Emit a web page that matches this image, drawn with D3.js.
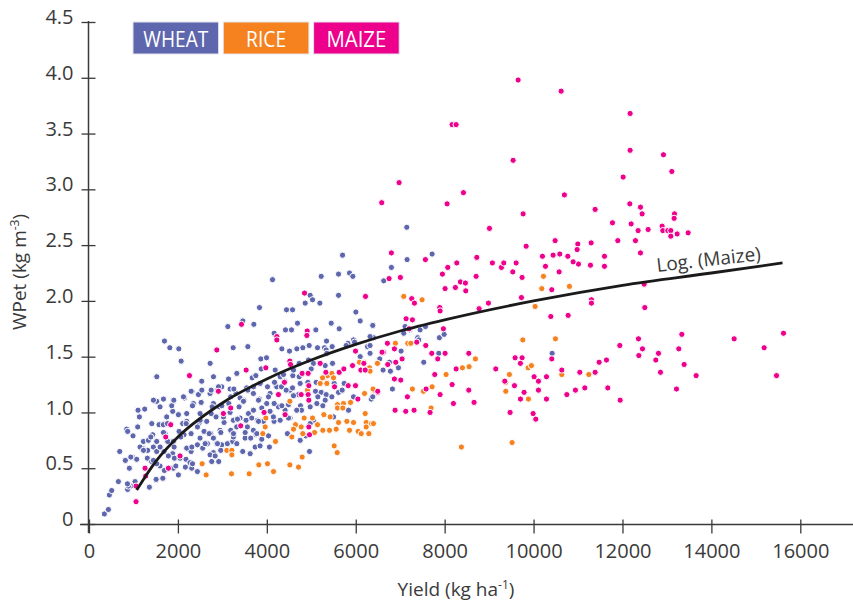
<!DOCTYPE html>
<html><head><meta charset="utf-8">
<script src="https://cdn.jsdelivr.net/npm/d3@7"></script>
<style>
body{margin:0;background:#fff}
svg{display:block}
text{font-family:"Open Sans","Noto Sans",sans-serif}
</style>
</head><body>
<svg id="c" width="853" height="606"></svg>
<script>
// ---------- data ----------
const categories = ["WHEAT", "RICE", "MAIZE"];
const xTicks = [0, 2000, 4000, 6000, 8000, 10000, 12000, 14000, 16000];
const xTickLabels = ["0", "2000", "4000", "6000", "8000", "10000", "12000", "14000", "16000"];
const yTicks = [0, 0.5, 1, 1.5, 2, 2.5, 3, 3.5, 4, 4.5];
const yTickLabels = ["0", "0.5", "1.0", "1.5", "2.0", "2.5", "3.0", "3.5", "4.0", "4.5"];
const trendLabel = "Log. (Maize)";

// [yield kg/ha, WPet kg/m3]
const wheat = [
[5703,2.41],[5223,2.22],[5613,2.24],[5860,2.25],[5935,2.22],[4128,2.19],[5613,2.05],[4975,2.05],[5028,2.01],[4863,1.98],[5193,1.98],[4443,1.92],[4578,1.92],[6003,1.90],[3835,1.94],[4690,1.80],[4555,1.74],[3460,1.82],[3708,1.79],[3123,1.77],[5448,1.80],[5628,1.75],[6100,1.82],[6385,1.78],[4165,1.71],[5103,1.74],[4420,1.74],[5343,1.64],[5950,1.65],[5823,1.62],[5785,1.60],[5973,1.63],[1698,1.64],[1818,1.58],[2020,1.57],[2073,1.46],[1525,1.32],[2725,1.44],[3243,1.58],[3573,1.59],[3865,1.48],[3993,1.49],[3670,1.31],[3753,1.33],[3873,1.39],[4338,1.57],[4510,1.55],[4675,1.57],[4810,1.58],[4953,1.60],[5140,1.58],[5298,1.58],[5335,1.56],[5470,1.59],[5350,1.53],[4728,1.44],[4938,1.47],[5050,1.44],[5178,1.44],[5313,1.42],[5478,1.44],[4998,1.39],[4300,1.32],[4585,1.33],[4728,1.32],[4750,1.26],[4923,1.27],[5110,1.27],[5313,1.32],[5350,1.26],[5515,1.26],[5740,1.26],[5095,1.19],[5223,1.18],[5335,1.16],[5148,1.14],[5313,1.11],[5463,1.14],[5613,1.18],[5695,1.20],[4758,1.06],[4780,1.02],[4975,1.05],[5125,1.08],[5260,1.06],[4750,0.75],[4960,0.65],[6348,1.12],[3325,1.35],[3138,1.30],[4188,1.38],[4375,1.34],[4600,1.38],[2800,1.32],[6265,1.59],[6400,1.67],[6100,1.50],[4878,0.79],[5050,0.93],[4975,0.90],[5500,0.96],[5838,1.02],[5950,1.14],
[346,0.09],[436,0.13],[458,0.26],[510,0.30],[661,0.38],[870,0.31],[938,0.34],[1036,0.38],[886,0.34],[691,0.65],[818,0.57],[848,0.85],[870,0.83],[990,0.79],[976,0.60],[1073,0.58],[908,0.50],[1103,1.02],[1133,0.96],[1096,0.87],[1253,1.03],[1223,0.74],[1320,0.66],[1200,0.68],[1336,0.75],[1433,0.80],[1523,0.74],[1448,0.69],[1313,0.59],[1410,0.56],[1358,0.33],[1508,0.40],[1673,0.41],[1523,1.10],[1576,0.89],[1673,0.89],[1711,0.81],[1771,0.74],[1898,0.74],[1688,0.65],[1883,0.63],[1786,0.61],[1696,0.48],[1598,0.52],[1898,0.50],[1898,1.10],[1883,1.01],[1861,1.06],[2011,0.44],[2011,0.98],[2146,1.13],[2108,0.90],[2198,0.92],[2318,1.19],[2026,0.83],[2138,0.80],[2296,0.81],[1921,0.59],[2048,0.59],[2183,0.58],[2273,0.55],[2168,0.51],[2311,0.50],[2296,0.65],[2438,0.71],[2498,0.99],[2483,0.91],[2588,0.83],[2648,0.92],[2558,0.68],[2438,0.47],[2536,1.28],[2723,1.17],[2888,1.20],[2798,1.08],[2933,1.05],[2738,0.81],[2663,0.72],[2798,0.77],[2873,0.72],[2798,0.64],[2723,0.62],[2918,0.56],[2761,0.56],[3173,1.21],[2986,1.23],[3188,1.14],[3308,1.17],[3173,1.00],[3248,0.93],[3323,0.87],[3188,0.84],[2986,0.71],[2963,0.66],[3113,0.72],[3233,0.74],[3458,0.65],[3398,0.95],[3533,0.93],[3586,0.99],[3376,1.05],[3488,1.11],[3698,1.17],[3548,1.22],[3698,1.23],[3833,1.12],[3886,1.04],[3661,0.95],[3788,0.93],[3923,0.92],[3511,0.77],[3638,0.77],[3758,0.80],[3886,0.76],[3736,0.69],[3848,0.70],[4058,0.69],[4163,0.92],[4148,0.96],[4073,1.01],[4261,1.05],[4411,1.02],[4523,0.95],[4463,0.81],[4711,1.16],[1598,1.05],[1748,0.96],[2198,0.99],[2348,1.08],[2461,1.16],[2858,0.96],[3038,0.91],[2948,0.84],[3248,0.78],[3563,0.87],[3698,0.84],[2498,0.77],[2198,0.68],[1523,0.65],[1448,0.57],[1148,0.69],[4073,1.17],[4223,1.23],[4523,1.20],[4673,1.02],[3998,1.08],[3398,1.13],
[2298,1.19],[2538,1.20],[2748,1.20],[2913,1.23],[3258,1.21],[3573,1.20],[3700,1.23],[3850,1.26],[4015,1.23],[4173,1.27],[4398,1.28],[4330,1.23],[4435,1.20],[4578,1.22],[1450,1.11],[1675,1.12],[1908,1.11],[2125,1.14],[2328,1.06],[2523,1.09],[2770,1.05],[2988,1.06],[3145,1.08],[3475,1.10],[3700,1.02],[3813,1.11],[4038,1.14],[4165,1.08],[4338,1.06],[4488,1.07],[4600,1.15],[1413,0.90],[1765,0.90],[2185,0.90],[2500,0.93],[2748,0.99],[3025,0.96],[3340,0.94],[3813,0.92],[4300,0.93],[4488,0.95],[1390,0.78],[1675,0.82],[2065,0.78],[2440,0.87],[2703,0.81],[2965,0.82],[3250,0.81],[3513,0.82],[3775,0.81],[4038,0.79],[1225,0.66],[1600,0.69],[1915,0.69],[2313,0.69],[2613,0.72],[2890,0.72],[3325,0.72],[3625,0.63],[940,0.60],[1525,0.54],[1953,0.52],[2328,0.54],[2838,0.61],[865,0.36],[1510,0.40],[1660,0.41],
[7148,2.66],[7718,2.42],[7155,2.37],[6802,2.30],[6630,2.18],[6383,1.78],[7110,1.77],[7080,1.71],[7207,1.74],[7448,1.74],[7567,1.77],[7395,1.67],[7417,1.65],[7882,1.67],[7988,1.70],[7020,1.55],[6960,1.40],[6780,1.37],[6615,1.38],[6757,1.45],[6540,1.48],[6322,1.53],[7530,1.45],[7868,1.53],[6825,1.21],[6383,1.14],[6322,1.60],[6322,1.68],[10418,1.53]
];

const rice = [
[6085,1.45],[6190,1.45],[6310,1.40],[6483,1.44],[5365,1.33],[5463,1.35],[5500,1.31],[5253,1.31],[5200,1.26],[5350,1.26],[4915,1.20],[4518,1.10],[5590,1.07],[5725,1.08],[5590,1.04],[5710,1.04],[5883,1.09],[6198,1.17],[6400,1.20],[6213,0.99],[5283,0.98],[5425,0.96],[4840,0.95],[5028,0.95],[4645,0.89],[4773,0.87],[4600,0.85],[5140,0.89],[5073,0.82],[5260,0.84],[5410,0.84],[5560,0.85],[5800,0.92],[5950,0.91],[5613,0.91],[5860,0.84],[6055,0.83],[6123,0.81],[6295,0.81],[6235,0.91],[6355,0.90],[6235,0.87],[5515,0.70],[5583,0.64],[4795,0.60],[4563,0.78],[4810,0.81],[3978,0.95],[3963,0.87],[3910,0.81],[4195,0.74],[3100,0.66],[3213,0.66],[3213,0.62],[2545,0.54],[2635,0.44],[3205,0.45],[3603,0.45],[3820,0.53],[4015,0.54],[4150,0.47],[4518,0.53],[4713,0.51],
[7080,2.04],[7492,2.01],[10185,2.11],[10807,2.13],[10222,2.22],[10035,1.95],[9758,1.65],[10492,1.66],[8692,1.48],[8032,1.34],[8400,1.40],[8550,1.41],[7275,1.21],[7523,1.19],[7718,1.23],[7695,1.04],[7170,1.62],[7238,1.62],[6892,1.62],[6488,1.44],[6390,1.21],[6398,0.90],[9457,1.34],[9375,1.27],[9375,1.19],[9878,1.40],[9952,1.42],[9885,1.12],[10635,1.34],[11243,1.34],[8377,0.69],[9517,0.73],[6322,1.37]
];

const maize = [
[1058,0.34],[1058,0.20],[1261,0.50],[1276,0.43],[1726,0.78],[1838,0.89],[2048,0.61],[1786,0.50],[2911,1.19],[3188,1.04],[3023,0.99],[3413,0.88],[3938,1.00],[4261,1.16],[4411,0.98],[4396,1.27],
[4848,2.07],[6220,2.04],[3430,1.79],[4908,1.73],[4900,1.69],[4225,1.68],[4225,1.65],[2875,1.56],[2260,1.33],[3535,1.38],[3978,1.40],[4518,1.46],[4533,1.43],[5200,1.44],[5628,1.36],[5733,1.39],[5928,1.42],[6115,1.38],[6213,1.38],[6183,1.44],[5995,1.55],[5328,1.36],[4795,1.35],[4930,1.35],[4773,1.16],[4945,1.24],[4930,1.16],[5523,1.23],[5830,1.24],[5995,1.24],[6048,1.12],[6498,1.18],[4945,1.11],[4945,0.87],[4960,0.80],
[6975,3.06],[6585,2.88],[8422,2.97],[8055,2.87],[10694,2.95],[12015,3.11],[11385,2.82],[9765,2.78],[9008,2.65],[12165,2.87],[12405,2.84],[12442,2.78],[11775,2.70],[12195,2.69],[12352,2.63],[12577,2.64],[12892,2.67],[12908,2.63],[13020,2.63],[11895,2.54],[12292,2.54],[12405,2.43],[10485,2.54],[10995,2.51],[10980,2.46],[11295,2.52],[9833,2.49],[11595,2.40],[11280,2.32],[11595,2.31],[11010,2.33],[10890,2.35],[10770,2.40],[10590,2.42],[10440,2.41],[10200,2.40],[10268,2.31],[10575,2.26],[10410,2.10],[9742,2.21],[9533,2.26],[9277,2.30],[9330,2.34],[9074,2.34],[9608,2.34],[8723,2.39],[8708,2.22],[8273,2.34],[8070,2.30],[7950,2.24],[7567,2.37],[6802,2.43],[7004,2.21],[6750,2.20],[8354,2.17],[8467,2.16],[8475,2.09],[8242,2.12],[8010,2.11],[9727,2.03],[8985,1.98],[8775,1.93],[7890,1.94],[7898,1.91],[7260,2.02],[7320,1.98],[7133,1.84],[7275,1.83],[7200,1.75],[7373,1.63],[7575,1.60],[7710,1.53],[7972,1.75],[8010,1.53],[7845,1.48],[8543,1.53],[8258,1.39],[8168,1.25],[7778,1.34],[7583,1.21],[7162,1.14],[7898,1.16],[8197,1.08],[8543,1.20],[8662,1.09],[6885,1.02],[7125,1.01],[7312,1.02],[7672,1.00],[9150,1.39],[9585,1.49],[9742,1.49],[9704,1.44],[9353,1.28],[9570,1.24],[10012,1.32],[10110,1.28],[10290,1.32],[9787,1.18],[9705,1.12],[10110,1.20],[10290,1.12],[9472,1.00],[9990,0.99],[10050,0.94],[10410,1.48],[10635,1.38],[10748,1.16],[10942,1.20],[11153,1.22],[11040,1.36],[11385,1.36],[11475,1.45],[11640,1.47],[11670,1.22],[11940,1.60],[11948,1.11],[12360,1.66],[12450,1.57],[12368,1.51],[12810,1.53],[12750,1.47],[12855,1.36],[12502,1.94],[12488,2.15],[11302,2.01],[11302,1.98],[10778,1.87],[10388,1.86],[6622,1.54],[6712,1.62],[6592,1.54],[6870,1.57],[6720,1.43],[6900,1.45],[7042,1.48],[6870,1.30],[7013,1.29],[6495,1.19],
[8168,3.58],[8258,3.58],[9653,3.98],[10620,3.88],[12172,3.68],[12172,3.35],[12922,3.31],[13110,3.16],[9540,3.26],[13170,2.78],[13162,2.74],[13087,2.63],[13087,2.58],[13230,2.60],[13477,2.61],[13335,1.70],[13267,1.57],[13387,1.43],[13657,1.33],[13215,1.21],[14512,1.66],[15622,1.71],[15187,1.58],[15465,1.33]
];

// logarithmic trend of maize
const maizeTrend = [[1073,0.305],[1500,0.56],[2000,0.78],[3000,1.085],[4000,1.30],[5000,1.47],[6000,1.61],[7000,1.73],[8000,1.83],[10000,2.00],[12000,2.14],[14000,2.25],[15600,2.34]];

// ---------- styles ----------
const colors = {WHEAT: "#5e66ae", RICE: "#f5821f", MAIZE: "#ec008c"};
const ink = "#3a3a3a";

const svg = d3.select("#c");
const x = d3.scaleLinear().domain([0, 16000]).range([89, 800.3]);
const y = d3.scaleLinear().domain([0, 4.5]).range([524, 22]);

// axes
const gy = svg.append("g").attr("transform", "translate(88.5,0)")
  .call(d3.axisLeft(y).tickValues(yTicks).tickFormat((d, i) => yTickLabels[i]).tickSize(0));
gy.select(".domain").remove();
gy.attr("font-size", 20).attr("font-family", "'Open Sans', sans-serif");
gy.selectAll(".tick line").attr("x1", -7).attr("x2", 7).attr("stroke", ink).attr("stroke-width", 1.3);
gy.selectAll(".tick text").attr("x", -15).attr("y", 1.6).attr("dy", 0).attr("fill", ink);
svg.append("line").attr("x1", 88.5).attr("x2", 88.5).attr("y1", 21).attr("y2", 533)
  .attr("stroke", ink).attr("stroke-width", 1.5);

const gx = svg.append("g").attr("transform", "translate(0,524.5)")
  .call(d3.axisBottom(x).tickValues(xTicks).tickFormat((d, i) => xTickLabels[i]).tickSize(0));
gx.select(".domain").remove();
gx.attr("font-size", 20).attr("font-family", "'Open Sans', sans-serif");
gx.selectAll(".tick line").attr("y1", -5).attr("y2", 9).attr("stroke", ink).attr("stroke-width", 1.3);
gx.selectAll(".tick text").attr("y", 33.5).attr("dy", 0).attr("fill", ink);
svg.append("line").attr("x1", 80).attr("x2", 853).attr("y1", 524.5).attr("y2", 524.5)
  .attr("stroke", ink).attr("stroke-width", 1.5);

// axis titles
const yt = svg.append("text").attr("transform", "translate(26,272) rotate(-90)")
  .attr("text-anchor", "middle").attr("font-size", 19).attr("fill", ink);
yt.append("tspan").text("WPet (kg m");
yt.append("tspan").attr("font-size", 12).attr("dy", -7).text("-3");
yt.append("tspan").attr("dy", 7).text(")");

const xt = svg.append("text").attr("x", 456).attr("y", 596)
  .attr("text-anchor", "middle").attr("font-size", 19).attr("fill", ink);
xt.append("tspan").text("Yield (kg ha");
xt.append("tspan").attr("font-size", 12).attr("dy", -7).text("-1");
xt.append("tspan").attr("dy", 7).text(")");

// points
const series = [["WHEAT", wheat], ["RICE", rice], ["MAIZE", maize]];
series.forEach(([name, data]) => {
  svg.append("g").selectAll("circle").data(data).join("circle")
    .attr("cx", d => x(d[0])).attr("cy", d => y(d[1])).attr("r", 3.1)
    .attr("fill", colors[name]).attr("stroke", "#fff").attr("stroke-width", 1);
});

// trend line
svg.append("path").datum(maizeTrend)
  .attr("d", d3.line().x(d => x(d[0])).y(d => y(d[1])).curve(d3.curveMonotoneX))
  .attr("fill", "none").attr("stroke", "#1a1a1a").attr("stroke-width", 2.8);
svg.append("text").attr("transform", `translate(${x(12780)},${y(2.26)}) rotate(-6.4)`)
  .attr("font-size", 19).attr("fill", ink).text(trendLabel);

// legend
const lg = svg.append("g").attr("transform", "translate(133,22)");
const textW = {WHEAT: 65, RICE: 40, MAIZE: 60};
categories.forEach((c, i) => {
  const g = lg.append("g").attr("transform", `translate(${i * 90.3},0)`);
  g.append("rect").attr("width", 85.6).attr("height", 32).attr("fill", colors[c])
    .attr("stroke", "#e4e4ee").attr("stroke-width", 1);
  g.append("text").attr("x", 42.8).attr("y", 24.5).attr("text-anchor", "middle")
    .attr("font-size", 22).attr("fill", "#fff")
    .attr("textLength", textW[c]).attr("lengthAdjust", "spacingAndGlyphs").text(c);
});
</script>
</body></html>
